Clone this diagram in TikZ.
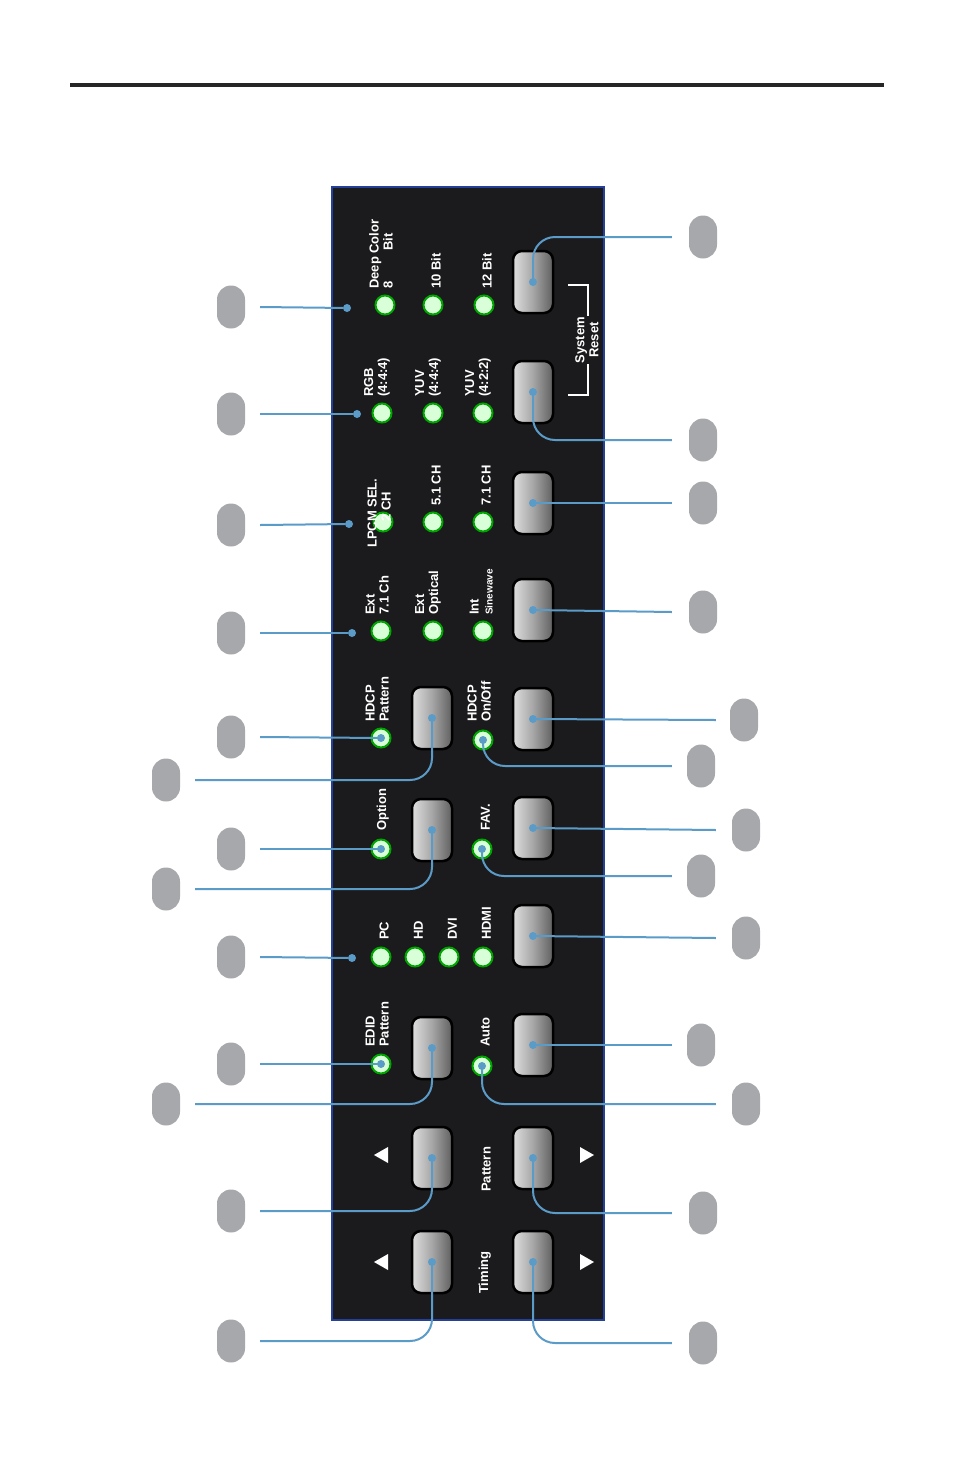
\documentclass[tikz,border=0pt]{standalone}
\usepackage{fontspec}
\setmainfont{Liberation Sans}
\usetikzlibrary{positioning}
\definecolor{calloutblue}{HTML}{5B9BC8}
\definecolor{tagGray}{HTML}{A7A8AB}
\definecolor{panelBlack}{HTML}{1B1B1D}
\definecolor{panelBlue}{HTML}{23419A}
\tikzset{
  tag/.style={fill=tagGray,rounded corners=14,minimum width=28,minimum height=43,inner sep=0},
  btn/.style={rounded corners=9,minimum width=40,minimum height=62,inner sep=0,
    draw=black,line width=2.5,left color=gray!25,right color=gray!75!black,middle color=gray!70},
  led/.style={circle,minimum size=19,inner sep=0,fill=green!15!white,draw=green!65!black,line width=2},
  lbl/.style={rotate=90,anchor=south west,text=white,font=\bfseries\fontsize{13}{14}\selectfont,
    align=left,inner sep=0},
  callout/.style={draw=calloutblue,line width=2,rounded corners=22},
  dot/.style={circle,fill=calloutblue,minimum size=8,inner sep=0}
}
\begin{document}
\begin{tikzpicture}[x=1pt,y=-1pt]
  \useasboundingbox (0,0) rectangle (954,1475);
  \fill[black!85] (70,83) rectangle (884,87);
  \draw[fill=panelBlack,draw=panelBlue,line width=2.5] (332,187) rectangle (604,1320);

  % leds
  \node[led] (l1) at (385,305) {};  \node[lbl] at (393,289) {Deep Color\\8\hspace{2.4em}Bit};
  \node[led] (l2) at (433,305) {};  \node[lbl] at (441,289) {10 Bit};
  \node[led] (l3) at (484,305) {};  \node[lbl] at (492,289) {12 Bit};
  \node[led] (l4) at (382,413) {};  \node[lbl] at (390,397) {RGB\\(4:4:4)};
  \node[led] (l5) at (433,413) {};  \node[lbl] at (441,397) {YUV\\(4:4:4)};
  \node[led] (l6) at (483,413) {};  \node[lbl] at (491,397) {YUV\\(4:2:2)};
  \node[led] (l7) at (383,522) {};  \node[lbl] at (391,548) {LPCM SEL.\\\hspace{26pt}2 CH};
  \node[led] (l8) at (433,522) {};  \node[lbl] at (441,506) {5.1 CH};
  \node[led] (l9) at (483,522) {};  \node[lbl] at (491,506) {7.1 CH};
  \node[led] (l10) at (381,631) {}; \node[lbl] at (389,615) {Ext\\7.1 Ch};
  \node[led] (l11) at (433,631) {}; \node[lbl] at (441,615) {Ext\\Optical};
  \node[led] (l12) at (483,631) {}; \node[lbl] at (493,615) {Int\\{\fontsize{10}{10}\selectfont Sinewave}};
  \node[led] (l13) at (381,738) {}; \node[lbl] at (389,722) {HDCP\\Pattern};
  \node[led] (l14) at (483,740) {}; \node[lbl] at (491,722) {HDCP\\On/Off};
  \node[led] (l15) at (381,849) {}; \node[lbl] at (389,831) {Option};
  \node[led] (l16) at (482,849) {}; \node[lbl] at (490,831) {FAV.};
  \node[led] (l17) at (381,957) {}; \node[lbl] at (389,940) {PC};
  \node[led] (l18) at (415,957) {}; \node[lbl] at (423,940) {HD};
  \node[led] (l19) at (449,957) {}; \node[lbl] at (457,940) {DVI};
  \node[led] (l20) at (483,957) {}; \node[lbl] at (491,940) {HDMI};
  \node[led] (l21) at (381,1064) {}; \node[lbl] at (389,1047) {EDID\\Pattern};
  \node[led] (l22) at (482,1066) {}; \node[lbl] at (490,1047) {Auto};
  \node[lbl] at (491,1192) {Pattern};
  \node[lbl] at (491,1294) {Timing};

  % buttons
  \node[btn] (a1) at (432,718) {};
  \node[btn] (a2) at (432,830) {};
  \node[btn] (a3) at (432,1048) {};
  \node[btn] (a4) at (432,1158) {};
  \node[btn] (a5) at (432,1262) {};
  \node[btn] (b1) at (533,282) {};
  \node[btn] (b2) at (533,392) {};
  \node[btn] (b3) at (533,503) {};
  \node[btn] (b4) at (533,610) {};
  \node[btn] (b5) at (533,719) {};
  \node[btn] (b6) at (533,828) {};
  \node[btn] (b7) at (533,936) {};
  \node[btn] (b8) at (533,1045) {};
  \node[btn] (b9) at (533,1158) {};
  \node[btn] (b10) at (533,1262) {};

  % arrows and system reset
  \foreach \y in {1155,1262} {
    \fill[white] (374,\y) -- (388,\y-8) -- (388,\y+8) -- cycle;
    \fill[white] (594,\y) -- (580,\y-8) -- (580,\y+8) -- cycle;
  }
  \draw[white,line width=1.5] (568,285) -- (588,285) -- (588,395) -- (568,395);
  \node[rotate=90,text=white,font=\bfseries\fontsize{13}{14}\selectfont,align=center,
    fill=panelBlack,inner sep=1] at (587,340) {System\\Reset};

  % tags left
  \node[tag] (t1) at (231,307) {};
  \node[tag] (t2) at (231,414) {};
  \node[tag] (t3) at (231,525) {};
  \node[tag] (t4) at (231,633) {};
  \node[tag] (t5) at (231,737) {};
  \node[tag] (t6) at (166,780) {};
  \node[tag] (t7) at (231,849) {};
  \node[tag] (t8) at (166,889) {};
  \node[tag] (t9) at (231,957) {};
  \node[tag] (t10) at (231,1064) {};
  \node[tag] (t11) at (166,1104) {};
  \node[tag] (t12) at (231,1211) {};
  \node[tag] (t13) at (231,1341) {};
  % tags right
  \node[tag] (r1) at (703,237) {};
  \node[tag] (r2) at (703,440) {};
  \node[tag] (r3) at (703,503) {};
  \node[tag] (r4) at (703,612) {};
  \node[tag] (r5) at (744,720) {};
  \node[tag] (r6) at (701,766) {};
  \node[tag] (r7) at (746,830) {};
  \node[tag] (r8) at (701,876) {};
  \node[tag] (r9) at (746,938) {};
  \node[tag] (r10) at (701,1045) {};
  \node[tag] (r11) at (746,1104) {};
  \node[tag] (r12) at (703,1213) {};
  \node[tag] (r13) at (703,1343) {};

  % free dots
  \node[dot] (d1) at (347,308) {};
  \node[dot] (d2) at (357,414) {};
  \node[dot] (d3) at (349,524) {};
  \node[dot] (d4) at (352,633) {};
  \node[dot] (d5) at (352,958) {};
  \foreach \n in {l13,l14,l15,l16,l21,l22,a1,a2,a3,a4,a5,b1,b2,b3,b4,b5,b6,b7,b8,b9,b10}
    \node[dot] at (\n.center) {};

  % callouts
  \draw[callout] ([xshift=15]t1.east) -- (d1);
  \draw[callout] ([xshift=15]t2.east) -- (d2);
  \draw[callout] ([xshift=15]t3.east) -- (d3);
  \draw[callout] ([xshift=15]t4.east) -- (d4);
  \draw[callout] ([xshift=15]t5.east) -- (l13.center);
  \draw[callout] ([xshift=15]t6.east) -| (a1.center);
  \draw[callout] ([xshift=15]t7.east) -- (l15.center);
  \draw[callout] ([xshift=15]t8.east) -| (a2.center);
  \draw[callout] ([xshift=15]t9.east) -- (d5);
  \draw[callout] ([xshift=15]t10.east) -- (l21.center);
  \draw[callout] ([xshift=15]t11.east) -| (a3.center);
  \draw[callout] ([xshift=15]t12.east) -| (a4.center);
  \draw[callout] ([xshift=15]t13.east) -| (a5.center);
  \draw[callout] ([xshift=-17]r1.west) -| (b1.center);
  \draw[callout] (b2.center) |- ([xshift=-17]r2.west);
  \draw[callout] (b3.center) -- ([xshift=-17]r3.west);
  \draw[callout] (b4.center) -- ([xshift=-17]r4.west);
  \draw[callout] (b5.center) -- ([xshift=-14]r5.west);
  \draw[callout] (l14.center) |- ([xshift=-15]r6.west);
  \draw[callout] (b6.center) -- ([xshift=-16]r7.west);
  \draw[callout] (l16.center) |- ([xshift=-15]r8.west);
  \draw[callout] (b7.center) -- ([xshift=-16]r9.west);
  \draw[callout] (b8.center) -- ([xshift=-15]r10.west);
  \draw[callout] (l22.center) |- ([xshift=-16]r11.west);
  \draw[callout] (b9.center) |- ([xshift=-17]r12.west);
  \draw[callout] (b10.center) |- ([xshift=-17]r13.west);
\end{tikzpicture}
\end{document}
